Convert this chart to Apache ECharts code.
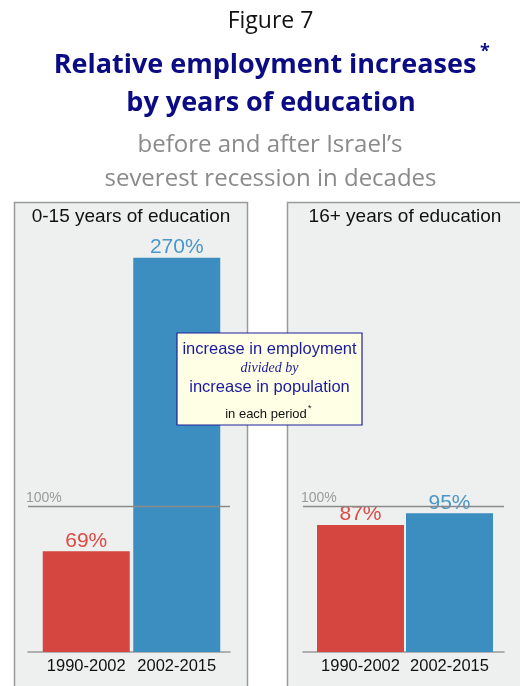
<!DOCTYPE html>
<html>
<head>
<meta charset="utf-8">
<script src="https://cdn.jsdelivr.net/npm/echarts@6/dist/echarts.min.js"></script>
<style>
  html, body { margin: 0; padding: 0; background: #ffffff; }
  #chart { width: 520px; height: 686px; }
</style>
</head>
<body>
<div id="chart"></div>
<script>
// Relative employment increases (employment growth / population growth), percent
const periods = ['1990-2002', '2002-2015'];
const lowEducation = [69, 270];   // 0-15 years of education
const highEducation = [87, 95];   // 16+ years of education
const panelTitles = ['0-15 years of education', '16+ years of education'];
const referenceLevel = 100;

const RED = '#d4463f';
const BLUE = '#3d8ec0';
const LABEL_RED = '#dc4b45';
const LABEL_BLUE = '#4a97c9';
const SANS = '"Liberation Sans", Arial, sans-serif';
const HEAD = '"Open Sans", "Noto Sans", sans-serif';

const chart = echarts.init(document.getElementById('chart'), null, { renderer: 'canvas' });

const yMax = 300;
const gridTop = 214;
const gridBottom = 34;

function barGrid(left, width) {
  return { left: left, width: width, top: gridTop, bottom: gridBottom, containLabel: false };
}

const grids = [
  barGrid(41, 181),   // left panel bars
  barGrid(28, 202),   // left panel reference lines
  barGrid(316, 178),  // right panel bars
  barGrid(303, 201)   // right panel reference lines
];

function catAxis(gridIndex) {
  return {
    type: 'category', gridIndex: gridIndex, data: periods,
    axisLine: { show: false }, axisTick: { show: false },
    axisLabel: { color: '#111', fontFamily: SANS, fontSize: 16.5, margin: 6, interval: 0 }
  };
}
function lineXAxis(gridIndex) {
  return {
    type: 'value', gridIndex: gridIndex, min: 0, max: 1,
    axisLine: { show: true, lineStyle: { color: '#9a9a9a', width: 1.5 } },
    axisTick: { show: false }, axisLabel: { show: false }, splitLine: { show: false }
  };
}
function yAx(gridIndex) {
  return {
    type: 'value', gridIndex: gridIndex, min: 0, max: yMax,
    show: false, splitLine: { show: false }
  };
}

function barSeries(axisIndex, values) {
  return {
    type: 'bar', xAxisIndex: axisIndex, yAxisIndex: axisIndex,
    barWidth: 87,
    data: values.map((v, i) => ({
      value: v,
      itemStyle: { color: i === 0 ? RED : BLUE },
      label: { color: i === 0 ? LABEL_RED : LABEL_BLUE }
    })),
    label: {
      show: true, position: 'top', distance: 0,
      fontFamily: SANS, fontSize: 21,
      formatter: p => p.value + '%'
    },
    silent: true, animation: false
  };
}
function refSeries(axisIndex) {
  return {
    type: 'line', xAxisIndex: axisIndex, yAxisIndex: axisIndex,
    data: [[0, 0]], symbol: 'none', lineStyle: { opacity: 0 },
    silent: true, animation: false,
    markLine: {
      symbol: 'none', silent: true, animation: false,
      lineStyle: { color: '#8a8a8a', width: 1.3, type: 'solid' },
      label: {
        show: true, position: 'insideStartTop', distance: [-2, 1],
        formatter: referenceLevel + '%', color: '#9a9a9a',
        fontFamily: SANS, fontSize: 14
      },
      data: [{ yAxis: referenceLevel }]
    }
  };
}

const panelStyle = { fill: '#eeefef', stroke: '#9a9a9a', lineWidth: 1.5 };
const BOX_Z = 100;
const NAVY = '#0b0b84';

function headText(text, x, y, font, color) {
  return {
    type: 'text', x: x, y: y, silent: true,
    style: { text: text, fill: color, font: font, textAlign: 'center', textVerticalAlign: 'middle' }
  };
}

chart.setOption({
  backgroundColor: '#ffffff',
  animation: false,
  graphic: [
    { type: 'rect', z: -10, shape: { x: 14.5, y: 202.5, width: 233, height: 500 }, style: panelStyle, silent: true },
    { type: 'rect', z: -10, shape: { x: 287.5, y: 202.5, width: 240, height: 500 }, style: panelStyle, silent: true },

    headText('Figure 7', 270.5, 21.5, '23px ' + HEAD, '#111'),
    headText('Relative employment increases', 265, 65, 'bold 27px ' + HEAD, NAVY),
    headText('*', 485, 52, 'bold 18px ' + HEAD, NAVY),
    headText('by years of education', 271, 103, 'bold 27px ' + HEAD, NAVY),
    headText('before and after Israel\u2019s', 270, 145, '24px ' + HEAD, '#8a8a8a'),
    headText('severest recession in decades', 270.5, 179, '24px ' + HEAD, '#8a8a8a'),

    headText(panelTitles[0], 131, 217, '19px ' + SANS, '#111'),
    headText(panelTitles[1], 405, 217, '19px ' + SANS, '#111'),

    { type: 'rect', z: BOX_Z, silent: true, shape: { x: 177, y: 333, width: 185, height: 92 }, style: { fill: '#ffffe6', stroke: '#20209a', lineWidth: 1.2 } },
    { type: 'text', z: BOX_Z + 1, silent: true, x: 269.5, y: 349, style: { text: 'increase in employment', fill: '#1a1aa0', font: '16.5px ' + SANS, textAlign: 'center', textVerticalAlign: 'middle' } },
    { type: 'text', z: BOX_Z + 1, silent: true, x: 269.5, y: 368, style: { text: 'divided by', fill: '#1a1aa0', font: 'italic 14px "Liberation Serif", "Times New Roman", serif', textAlign: 'center', textVerticalAlign: 'middle' } },
    { type: 'text', z: BOX_Z + 1, silent: true, x: 269.5, y: 387, style: { text: 'increase in population', fill: '#1a1aa0', font: '16.5px ' + SANS, textAlign: 'center', textVerticalAlign: 'middle' } },
    { type: 'text', z: BOX_Z + 1, silent: true, x: 266, y: 414, style: { text: 'in each period', fill: '#111', font: '13px ' + SANS, textAlign: 'center', textVerticalAlign: 'middle' } },
    { type: 'text', z: BOX_Z + 1, silent: true, x: 308, y: 409, style: { text: '*', fill: '#111', font: '9px ' + SANS, textAlign: 'left', textVerticalAlign: 'middle' } }
  ],
  grid: grids,
  xAxis: [catAxis(0), lineXAxis(1), catAxis(2), lineXAxis(3)],
  yAxis: [yAx(0), yAx(1), yAx(2), yAx(3)],
  series: [
    refSeries(1),
    refSeries(3),
    barSeries(0, lowEducation),
    barSeries(2, highEducation)
  ]
});
</script>
</body>
</html>
